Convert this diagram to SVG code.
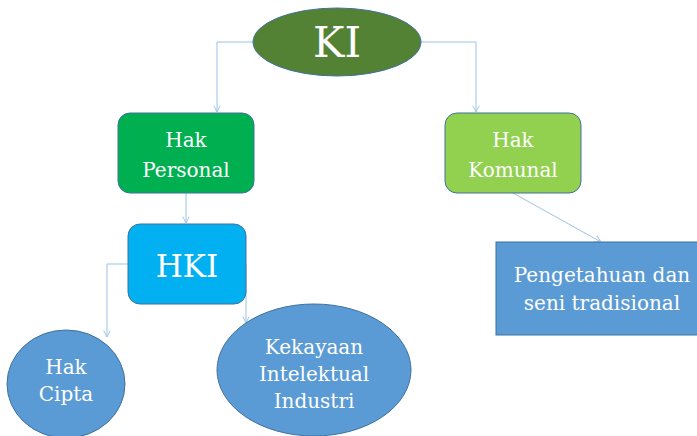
<svg xmlns="http://www.w3.org/2000/svg" width="697" height="436" viewBox="0 0 697 436">
<style>
.t{font-family:"DejaVu Serif","Liberation Serif",serif;fill:#fff;text-anchor:middle}
.c{fill:none;stroke:#9DC3E6;stroke-width:1}
.n{stroke:#41719C;stroke-width:1}
</style>
<defs>
<marker id="a" viewBox="0 0 10 10" refX="9" refY="5" markerWidth="8" markerHeight="8" orient="auto" markerUnits="userSpaceOnUse">
<path d="M1,1 L9,5 L1,9" fill="none" stroke="#9DC3E6" stroke-width="1.2"/>
</marker>
</defs>
<rect width="697" height="436" fill="#fff"/>
<g id="connectors">
<path class="c" d="M253,42 H217 V112" marker-end="url(#a)"/>
<path class="c" d="M421,42 H476 V112" marker-end="url(#a)"/>
<path class="c" d="M186,193 V223" marker-end="url(#a)"/>
<path class="c" d="M128,264 H107 V337" marker-end="url(#a)"/>
<path class="c" d="M246,264 V323" marker-end="url(#a)"/>
<path class="c" d="M513,193 L601,242" marker-end="url(#a)"/>
</g>
<g id="ki">
<ellipse class="n" cx="337" cy="42" rx="84" ry="34" fill="#548235"/>
<text class="t" x="337" y="57" font-size="42">KI</text>
</g>
<g id="hak-personal">
<rect class="n" x="118" y="113" width="136" height="80" rx="12" fill="#00B050"/>
<text class="t" x="186" y="147" font-size="20">Hak</text>
<text class="t" x="186" y="177" font-size="20">Personal</text>
</g>
<g id="hak-komunal">
<rect class="n" x="445" y="113" width="136" height="80" rx="12" fill="#92D050"/>
<text class="t" x="513" y="147" font-size="20">Hak</text>
<text class="t" x="513" y="177" font-size="20">Komunal</text>
</g>
<g id="hki">
<rect class="n" x="128" y="224" width="118" height="80" rx="12" fill="#00B0F0"/>
<text class="t" x="187" y="277" font-size="31">HKI</text>
</g>
<g id="hak-cipta">
<ellipse class="n" cx="66" cy="384" rx="59" ry="54" fill="#5B9BD5"/>
<text class="t" x="66" y="374" font-size="20">Hak</text>
<text class="t" x="66" y="401" font-size="20">Cipta</text>
</g>
<g id="kekayaan">
<ellipse class="n" cx="314" cy="370" rx="97" ry="66" fill="#5B9BD5"/>
<text class="t" x="314" y="354" font-size="20">Kekayaan</text>
<text class="t" x="314" y="381" font-size="20">Intelektual</text>
<text class="t" x="314" y="408" font-size="20">Industri</text>
</g>
<g id="pengetahuan">
<rect class="n" x="496" y="242" width="210" height="93" fill="#5B9BD5"/>
<text class="t" x="602" y="282" font-size="20">Pengetahuan dan</text>
<text class="t" x="602" y="310" font-size="20">seni tradisional</text>
</g>
</svg>
